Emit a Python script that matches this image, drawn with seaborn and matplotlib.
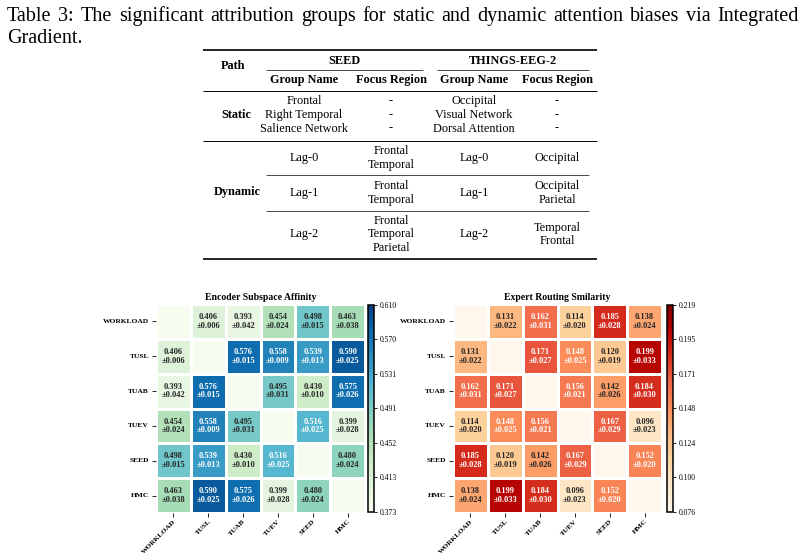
import numpy as np
import pandas as pd
import matplotlib
matplotlib.use("Agg")
import matplotlib.pyplot as plt
import seaborn as sns

plt.rcParams['font.family'] = ['Liberation Serif', 'DejaVu Sans']

# ---------------- data ----------------
labels = ["WORKLOAD", "TUSL", "TUAB", "TUEV", "SEED", "HMC"]
nan = np.nan

enc_mean = [
    [nan, 0.406, 0.393, 0.454, 0.498, 0.463],
    [0.406, nan, 0.576, 0.558, 0.539, 0.590],
    [0.393, 0.576, nan, 0.495, 0.430, 0.575],
    [0.454, 0.558, 0.495, nan, 0.516, 0.399],
    [0.498, 0.539, 0.430, 0.516, nan, 0.480],
    [0.463, 0.590, 0.575, 0.399, 0.480, nan],
]
enc_std = [
    [nan, 0.006, 0.042, 0.024, 0.015, 0.038],
    [0.006, nan, 0.015, 0.009, 0.013, 0.025],
    [0.042, 0.015, nan, 0.031, 0.010, 0.026],
    [0.024, 0.009, 0.031, nan, 0.025, 0.028],
    [0.015, 0.013, 0.010, 0.025, nan, 0.024],
    [0.038, 0.025, 0.026, 0.028, 0.024, nan],
]
exp_mean = [
    [nan, 0.131, 0.162, 0.114, 0.185, 0.138],
    [0.131, nan, 0.171, 0.148, 0.120, 0.199],
    [0.162, 0.171, nan, 0.156, 0.142, 0.184],
    [0.114, 0.148, 0.156, nan, 0.167, 0.096],
    [0.185, 0.120, 0.142, 0.167, nan, 0.152],
    [0.138, 0.199, 0.184, 0.096, 0.152, nan],
]
exp_std = [
    [nan, 0.022, 0.031, 0.020, 0.028, 0.024],
    [0.022, nan, 0.027, 0.025, 0.019, 0.033],
    [0.031, 0.027, nan, 0.021, 0.026, 0.030],
    [0.020, 0.025, 0.021, nan, 0.029, 0.023],
    [0.028, 0.019, 0.026, 0.029, nan, 0.020],
    [0.024, 0.033, 0.030, 0.023, 0.020, nan],
]

caption_lines = [
    "Table 3: The significant attribution groups for static and dynamic attention biases via Integrated",
    "Gradient.",
]
static_seed = ["Frontal", "Right Temporal", "Salience Network"]
static_things = ["Occipital", "Visual Network", "Dorsal Attention"]
lag_names = ["Lag-0", "Lag-1", "Lag-2"]
seed_focus = [["Frontal", "Temporal"], ["Frontal", "Temporal"], ["Frontal", "Temporal", "Parietal"]]
things_focus = [["Occipital"], ["Occipital", "Parietal"], ["Temporal", "Frontal"]]

# ---------------- figure ----------------
W, H = 805, 556
fig = plt.figure(figsize=(W / 100, H / 100), dpi=100)

# overlay axes in pixel coordinates for caption + table
tax = fig.add_axes([0, 0, 1, 1])
tax.set_xlim(0, W)
tax.set_ylim(H, 0)
tax.axis("off")

renderer = fig.canvas.get_renderer()
cap_fs = 14.5
# first caption line: justified between x=7 and x=799
words = caption_lines[0].split(" ")
arts = [tax.text(0, 20.7, w, fontsize=cap_fs, va="baseline", ha="left") for w in words]
widths = [a.get_window_extent(renderer).width for a in arts]
gap = (799 - 7 - sum(widths)) / (len(words) - 1)
x = 7.0
for a, w in zip(arts, widths):
    a.set_x(x)
    x += w + gap
tax.text(7, 42.7, caption_lines[1], fontsize=cap_fs, va="baseline", ha="left")

fs = 8.8
xp, xsg, xsf, xtg, xtf = 233, 304, 391, 474, 557
def T(x, y, s, bold=False):
    tax.text(x, y, s, fontsize=fs, ha="center", va="center",
             fontweight="bold" if bold else "normal")

def rule(x0, x1, y, lw):
    tax.plot([x0, x1], [y, y], color="black", lw=lw, solid_capstyle="butt")

rule(203, 597, 50, 1.2)
T(xp, 66, "Path", True)
T(344.5, 60.5, "SEED", True)
T(512.5, 60.5, "THINGS-EEG-2", True)
rule(266, 423, 70, 0.5)
rule(437, 589, 70, 0.5)
for x, s in [(xsg, "Group Name"), (xsf, "Focus Region"), (xtg, "Group Name"), (xtf, "Focus Region")]:
    T(x, 79.5, s, True)
rule(203, 597, 91, 0.7)

ys = [101, 115, 128.5]
T(236, 115, "Static", True)
for y, a, b in zip(ys, static_seed, static_things):
    T(xsg, y, a)
    T(xsf, y, "-")
    T(xtg, y, b)
    T(xtf, y, "-")
rule(203, 597, 141, 0.7)

row_tops = [141, 175, 211]
row_bots = [175, 211, 258]
T(237, 192.5, "Dynamic", True)
lh = 13.3
for top, bot, lag, sf, tf in zip(row_tops, row_bots, lag_names, seed_focus, things_focus):
    yc = (top + bot) / 2
    T(xsg, yc, lag)
    T(xtg, yc, lag)
    for k, s in enumerate(sf):
        T(xsf, yc + (k - (len(sf) - 1) / 2) * lh, s)
    for k, s in enumerate(tf):
        T(xtf, yc + (k - (len(tf) - 1) / 2) * lh, s)
rule(266, 589, 175, 0.5)
rule(266, 589, 211, 0.5)
rule(203, 597, 258.5, 1.2)

# ---------------- heatmaps ----------------
def px_axes(x0, y0, x1, y1):
    return fig.add_axes([x0 / W, 1 - y1 / H, (x1 - x0) / W, (y1 - y0) / H])

def draw(mean, std, cmap, vmin, vmax, title, box, cbox):
    ax = px_axes(*box)
    cax = px_axes(*cbox)
    m = pd.DataFrame(mean, index=labels, columns=labels)
    s = np.array(std)
    annot = np.array([[("" if np.isnan(v) else f"{v:.3f}\n±{e:.3f}")
                       for v, e in zip(r1, r2)] for r1, r2 in zip(np.array(mean), s)])
    cm = plt.get_cmap(cmap)
    ax.set_facecolor(cm(0.0))
    sns.heatmap(m, ax=ax, cbar_ax=cax, cmap=cmap, vmin=vmin, vmax=vmax,
                annot=annot, fmt="", linewidths=0.8, linecolor="white",
                annot_kws=dict(fontsize=6, fontweight="bold", linespacing=1.1),
                cbar_kws=dict(ticks=np.linspace(vmin, vmax, 7), format="%.3f"))
    ax.set_xlim(0, len(labels))
    ax.set_ylim(len(labels), 0)
    ax.set_title(title, fontsize=7, fontweight="bold", pad=3)
    ax.set_xticklabels(labels, rotation=45, ha="right", rotation_mode="anchor",
                       fontsize=5.3, fontweight="bold")
    ax.set_yticklabels(labels, rotation=0, fontsize=5.4, fontweight="bold")
    ax.tick_params(axis="x", length=3, width=0.6, pad=1.2)
    ax.tick_params(axis="y", length=3, width=0.6, pad=2)
    ax.set_xlabel("")
    ax.set_ylabel("")
    cax.tick_params(labelsize=5.5, length=2.5, width=0.6, pad=1.5)
    c = ax.collections[0].colorbar
    c.outline.set_edgecolor("black")
    c.outline.set_linewidth(1.1)

draw(enc_mean, enc_std, "GnBu", 0.3732, 0.6096, "Encoder Subspace Affinity",
     (156, 304, 365, 513), (368, 304.5, 374, 512))
draw(exp_mean, exp_std, "OrRd", 0.0762, 0.2190, "Expert Routing Smilarity",
     (453, 304, 662, 513), (667, 304.5, 673, 512))

fig.savefig("out.png", dpi=100)
